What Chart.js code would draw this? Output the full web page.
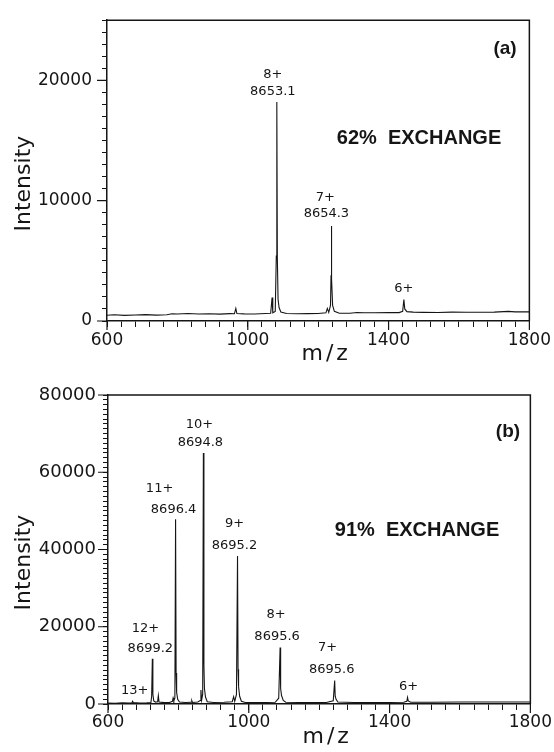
<!DOCTYPE html>
<html>
<head>
<meta charset="utf-8">
<script src="https://cdn.jsdelivr.net/npm/chart.js@4.4.1/dist/chart.umd.min.js"></script>
<style>
  html, body { margin: 0; padding: 0; background: #fff; }
  #wrap { position: relative; width: 554px; height: 752px; }
  canvas { position: absolute; left: 0; }
  #chartA { top: 0; }
  #chartB { top: 370px; }
</style>
</head>
<body>
<div id="wrap">
  <canvas id="chartA" width="554" height="370"></canvas>
  <canvas id="chartB" width="554" height="382"></canvas>
</div>
<script>
// panel (a) : 62% exchange, spectrum
const mzA = [600, 620, 650, 680, 710, 740, 770, 785, 800, 830, 860, 890, 920, 950, 962, 966, 969, 990,
  1020, 1050, 1065, 1069, 1071, 1078, 1081, 1082.5, 1084, 1086, 1089, 1094, 1110, 1140, 1170, 1200,
  1222, 1226, 1230, 1235, 1236.5, 1237.5, 1238.5, 1241, 1246, 1260, 1290, 1310, 1330, 1360, 1400,
  1430, 1440, 1443.5, 1446, 1452, 1470, 1500, 1540, 1580, 1620, 1660, 1700, 1740, 1760, 1800];
const intA = [480, 520, 470, 500, 530, 490, 520, 600, 580, 620, 580, 600, 570, 610, 600, 1050, 620, 590,
  580, 620, 640, 1950, 680, 800, 5400, 18200, 5200, 1800, 1100, 750, 620, 600, 610, 620,
  680, 1050, 720, 1300, 3800, 7900, 3500, 1300, 800, 650, 640, 700, 680, 690, 700,
  700, 800, 1780, 1000, 780, 740, 720, 710, 740, 730, 730, 740, 800, 760, 760];
const peakMzA = [1082.5, 1237.5, 1443.5];
const peakIntA = [18200, 7900, 1780];
const chargeA = ['8+', '7+', '6+'];
const massA = ['8653.1', '8654.3', ''];

// panel (b) : 91% exchange
const mzB = [600, 620, 640, 660, 668, 670, 672, 690, 710, 722, 724, 726, 727.5, 730, 735, 741, 743, 745,
  760, 775, 783, 785, 787, 790, 792, 793.5, 795, 798, 803, 820, 836, 838, 840, 855, 862, 864, 866,
  869, 871, 872.5, 874, 877, 882, 900, 930, 953, 957, 960, 965, 968, 969.5, 971, 974, 979, 990,
  1020, 1050, 1075, 1085, 1089, 1090.5, 1093, 1098, 1105, 1140, 1180, 1220, 1240, 1244, 1245.5,
  1248, 1253, 1300, 1350, 1400, 1440, 1449, 1451, 1453, 1460, 1520, 1600, 1700, 1800];
const intB = [250, 200, 280, 250, 300, 720, 350, 250, 300, 400, 2000, 11700, 2500, 800, 500, 600, 2150, 500,
  350, 400, 700, 1550, 800, 1500, 47800, 8000, 3000, 1200, 500, 400, 450, 900, 400, 500, 900, 3600, 1000,
  2500, 65000, 10000, 4000, 1800, 600, 400, 450, 600, 1900, 700, 2500, 38300, 9000, 4500, 2000, 700, 400,
  380, 400, 450, 1500, 14600, 4000, 2200, 900, 450, 400, 380, 400, 800, 6050, 2000,
  1200, 500, 380, 400, 380, 450, 700, 1700, 800, 450, 450, 500, 500, 500];
const peakMzB = [670, 726, 792, 871, 968, 1089, 1244, 1451];
const peakIntB = [720, 11700, 47800, 65000, 38300, 14600, 6050, 1700];
const chargeB = ['13+', '12+', '11+', '10+', '9+', '8+', '7+', '6+'];
const massB = ['', '8699.2', '8696.4', '8694.8', '8695.2', '8695.6', '8695.6', ''];

const xMajor = [600, 1000, 1400, 1800];
const yMajorA = [0, 10000, 20000];
const yMajorB = [0, 20000, 40000, 60000, 80000];

// label offsets from the peak top, px: [charge dx, dy, mass dx, dy]
const offsA = [[-4, -27, -4, -10], [-6, -28, -5, -12], [0, -11]];
const offsB = [[2, -11], [-7, -30, -2, -10], [-16, -31, -2, -10], [-4, -28, -3, -10],
  [-3, -32, -3, -10], [-4, -33, -3, -11], [-7, -33, -3, -11], [1, -11]];

const ink = '#151515';
Chart.defaults.font.family = '"DejaVu Sans", sans-serif';
Chart.defaults.color = ink;

function makeData(mz, inten) {
  const pts = [];
  for (let i = 0; i < mz.length; i++) {
    pts.push({ x: mz[i], y: inten[i] });
  }
  return pts;
}

const decorPlugin = {
  id: 'decor',
  afterDraw(chart) {
    const o = chart.options.plugins.decor;
    const ctx = chart.ctx;
    const area = chart.chartArea;
    const xs = chart.scales.x;
    const ys = chart.scales.y;
    ctx.save();
    ctx.strokeStyle = ink;
    ctx.lineWidth = 1.5;
    ctx.beginPath();
    ctx.moveTo(area.left, area.top);
    ctx.lineTo(area.right, area.top);
    ctx.lineTo(area.right, area.bottom);
    ctx.stroke();

    // longer major ticks
    ctx.lineWidth = 1.2;
    ctx.beginPath();
    for (const v of o.yMajor) {
      const py = ys.getPixelForValue(v);
      ctx.moveTo(area.left - 10, py);
      ctx.lineTo(area.left, py);
    }
    for (const v of xMajor) {
      const px = xs.getPixelForValue(v);
      ctx.moveTo(px, area.bottom);
      ctx.lineTo(px, area.bottom + 9);
    }
    ctx.stroke();

    // peak labels
    ctx.fillStyle = ink;
    ctx.textAlign = 'center';
    ctx.textBaseline = 'middle';
    ctx.font = '13px "DejaVu Sans"';
    for (let i = 0; i < o.peakMz.length; i++) {
      const px = xs.getPixelForValue(o.peakMz[i]);
      const py = ys.getPixelForValue(o.peakInt[i]);
      const off = o.offs[i];
      ctx.fillText(o.charge[i], px + off[0], py + off[1]);
      if (o.mass[i]) ctx.fillText(o.mass[i], px + off[2], py + off[3]);
    }

    // panel tag and exchange text
    ctx.font = 'bold 19px "Liberation Sans"';
    ctx.fillText(o.tag, o.tagPos[0], o.tagPos[1]);
    ctx.font = 'bold 20px "Liberation Sans"';
    ctx.fillText(o.note, o.notePos[0], o.notePos[1]);

    // axis titles
    ctx.font = '22px "DejaVu Sans"';
    ctx.letterSpacing = '3px';
    ctx.fillText('m/z', (area.left + area.right) / 2 + 8, area.bottom + 33);
    ctx.letterSpacing = '0px';
    ctx.translate(24, (area.top + area.bottom) / 2 + 13);
    ctx.rotate(-Math.PI / 2);
    ctx.fillText('Intensity', 0, 0);
    ctx.restore();
  }
};

function makeChart(id, cfg) {
  return new Chart(document.getElementById(id), {
    type: 'line',
    data: {
      datasets: [{
        data: makeData(cfg.mz, cfg.inten),
        borderColor: ink,
        borderWidth: 1.1,
        pointRadius: 0,
        tension: 0,
        fill: false
      }]
    },
    options: {
      responsive: false,
      animation: false,
      devicePixelRatio: 1,
      layout: { padding: { left: 0, top: cfg.top, right: cfg.right, bottom: 0 } },
      plugins: {
        legend: { display: false },
        tooltip: { enabled: false },
        decor: cfg.decor
      },
      scales: {
        x: {
          type: 'linear',
          min: 600,
          max: 1800,
          afterFit: function (scale) { scale.height = cfg.xHeight; },
          border: { display: true, color: ink, width: 1.5 },
          grid: { drawOnChartArea: false, drawTicks: true, tickLength: 6, tickColor: ink, tickWidth: 1 },
          ticks: {
            stepSize: 40,
            autoSkip: false,
            maxRotation: 0,
            padding: cfg.xPad,
            font: { size: 17 },
            callback: function (v) { return (v - 600) % 400 === 0 ? String(v) : ''; }
          }
        },
        y: {
          type: 'linear',
          min: 0,
          max: cfg.yMax,
          afterFit: function (scale) { scale.width = cfg.yWidth; },
          border: { display: true, color: ink, width: 1.5 },
          grid: { drawOnChartArea: false, drawTicks: true, tickLength: 5, tickColor: ink, tickWidth: 1 },
          ticks: {
            stepSize: cfg.yMinor,
            autoSkip: false,
            padding: cfg.yPad,
            font: { size: cfg.yFont },
            callback: function (v) { return v % cfg.yMajorStep === 0 ? String(v) : ''; }
          }
        }
      }
    },
    plugins: [decorPlugin]
  });
}

makeChart('chartA', {
  mz: mzA, inten: intA, top: 17, right: 24, xHeight: 49, yWidth: 107,
  yMax: 25000, yMinor: 1000, yMajorStep: 10000, xPad: 3, yPad: 10, yFont: 17,
  decor: {
    yMajor: yMajorA, peakMz: peakMzA, peakInt: peakIntA, charge: chargeA, mass: massA, offs: offsA,
    tag: '(a)', tagPos: [505, 49], note: '62%  EXCHANGE', notePos: [419, 138]
  }
});

makeChart('chartB', {
  mz: mzB, inten: intB, top: 25, right: 23, xHeight: 48, yWidth: 108,
  yMax: 80000, yMinor: 1250, yMajorStep: 20000, xPad: 2, yPad: 7, yFont: 18,
  decor: {
    yMajor: yMajorB, peakMz: peakMzB, peakInt: peakIntB, charge: chargeB, mass: massB, offs: offsB,
    tag: '(b)', tagPos: [508, 62], note: '91%  EXCHANGE', notePos: [417, 160]
  }
});
</script>
</body>
</html>
